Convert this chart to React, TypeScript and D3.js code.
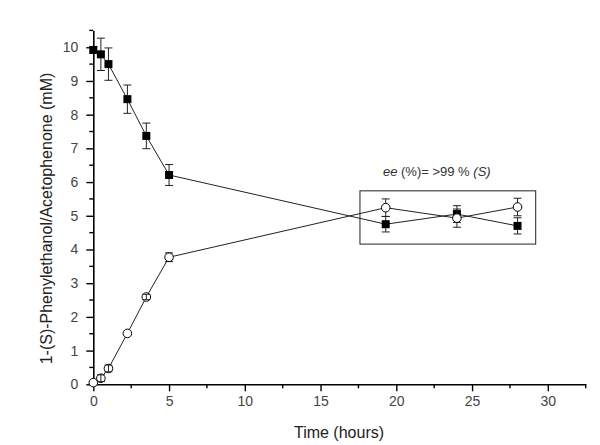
import * as d3 from "d3";
import { useEffect, useRef } from "react";

// Acetophenone (filled squares)
const acetoTime = [0, 0.5, 1, 2.25, 3.5, 5, 19.3, 24, 28];
const acetoConc = [9.92, 9.79, 9.5, 8.46, 7.37, 6.21, 4.75, 5.05, 4.7];
const acetoErr = [0.1, 0.48, 0.48, 0.42, 0.38, 0.31, 0.23, 0.25, 0.24];

// 1-(S)-Phenylethanol (open circles)
const phenTime = [0, 0.5, 1, 2.25, 3.5, 5, 19.3, 24, 28];
const phenConc = [0.05, 0.18, 0.47, 1.51, 2.59, 3.77, 5.24, 4.93, 5.26];
const phenErr = [0, 0.1, 0.1, 0, 0.08, 0.13, 0.26, 0.27, 0.26];

const xTicks = [0, 5, 10, 15, 20, 25, 30];
const yTicks = [0, 1, 2, 3, 4, 5, 6, 7, 8, 9, 10];

// annotation box in data units
const boxX = [17.6, 29.2];
const boxY = [4.16, 5.74];

export default function App() {
  const svgRef = useRef<SVGSVGElement | null>(null);

  useEffect(() => {
    if (!svgRef.current) return;
    const svg = d3.select(svgRef.current);
    svg.selectAll("*").remove();

    const font = "'Liberation Sans', Arial, sans-serif";

    const x = d3.scaleLinear().domain([0, 32.5]).range([93.3, 585.7]);
    const y = d3.scaleLinear().domain([0, 10.5]).range([384.3, 30.4]);

    const g = svg.append("g");

    // axes
    const xMinor = d3.range(0, 32.51, 2.5).filter((v) => v % 5 !== 0);
    const yMinor = d3.range(0, 10.51, 0.5).filter((v) => v % 1 !== 0);

    const xAxis = g
      .append("g")
      .attr("transform", `translate(0,${y(0)})`)
      .call(
        d3
          .axisBottom(x)
          .tickValues(xTicks)
          .tickSize(7)
          .tickSizeOuter(0)
          .tickPadding(5)
          .tickFormat(d3.format("d"))
      );
    xAxis
      .selectAll("line")
      .attr("stroke", "#000")
      .attr("stroke-width", 1.4);
    xAxis.select(".domain").attr("stroke", "#000").attr("stroke-width", 1.6);
    xAxis
      .selectAll("text")
      .attr("font-family", font)
      .attr("font-size", 14)
      .attr("fill", "#444");
    xAxis
      .selectAll(".minor")
      .data(xMinor)
      .join("line")
      .attr("x1", (d) => x(d))
      .attr("x2", (d) => x(d))
      .attr("y1", 0)
      .attr("y2", 4)
      .attr("stroke", "#000")
      .attr("stroke-width", 1.4);

    const yAxis = g
      .append("g")
      .attr("transform", `translate(${x(0)},0)`)
      .call(
        d3
          .axisLeft(y)
          .tickValues(yTicks)
          .tickSize(7)
          .tickSizeOuter(0)
          .tickPadding(8)
          .tickFormat(d3.format("d"))
      );
    yAxis
      .selectAll("line")
      .attr("stroke", "#000")
      .attr("stroke-width", 1.4);
    yAxis.select(".domain").attr("stroke", "#000").attr("stroke-width", 1.6);
    yAxis
      .selectAll("text")
      .attr("font-family", font)
      .attr("font-size", 14)
      .attr("fill", "#444");
    yAxis
      .selectAll(".minor")
      .data(yMinor)
      .join("line")
      .attr("x1", 0)
      .attr("x2", -4)
      .attr("y1", (d) => y(d))
      .attr("y2", (d) => y(d))
      .attr("stroke", "#000")
      .attr("stroke-width", 1.4);

    // axis titles
    g.append("text")
      .attr("x", 339)
      .attr("y", 438)
      .attr("text-anchor", "middle")
      .attr("font-family", font)
      .attr("font-size", 16)
      .attr("fill", "#222")
      .text("Time (hours)");

    g.append("text")
      .attr("transform", `translate(52,218.5) rotate(-90)`)
      .attr("text-anchor", "middle")
      .attr("font-family", font)
      .attr("font-size", 16)
      .attr("fill", "#222")
      .text("1-(S)-Phenylethanol/Acetophenone (mM)");

    // annotation box + label
    g.append("rect")
      .attr("x", x(boxX[0]))
      .attr("y", y(boxY[1]))
      .attr("width", x(boxX[1]) - x(boxX[0]))
      .attr("height", y(boxY[0]) - y(boxY[1]))
      .attr("fill", "none")
      .attr("stroke", "#222")
      .attr("stroke-width", 1);

    const ee = g
      .append("text")
      .attr("x", x(boxX[0]) + 23)
      .attr("y", y(boxY[1]) - 15)
      .attr("font-family", font)
      .attr("font-size", 13)
      .attr("fill", "#333");
    ee.append("tspan").attr("font-style", "italic").text("ee");
    ee.append("tspan").text(" (%)= >99 % ");
    ee.append("tspan").attr("font-style", "italic").text("(S)");

    const line = d3
      .line<[number, number]>()
      .x((d) => x(d[0]))
      .y((d) => y(d[1]));

    const drawErr = (
      sel: d3.Selection<SVGGElement, unknown, null, undefined>,
      t: number[],
      v: number[],
      e: number[]
    ) => {
      t.forEach((ti, i) => {
        if (e[i] <= 0) return;
        const cx = x(ti);
        const y1 = y(v[i] + e[i]);
        const y2 = y(v[i] - e[i]);
        sel
          .append("line")
          .attr("x1", cx)
          .attr("x2", cx)
          .attr("y1", y1)
          .attr("y2", y2)
          .attr("stroke", "#222")
          .attr("stroke-width", 1);
        [y1, y2].forEach((yy) =>
          sel
            .append("line")
            .attr("x1", cx - 4)
            .attr("x2", cx + 4)
            .attr("y1", yy)
            .attr("y2", yy)
            .attr("stroke", "#222")
            .attr("stroke-width", 1)
        );
      });
    };

    // acetophenone series
    const aceto = g.append("g");
    aceto
      .append("path")
      .datum(acetoTime.map((t, i) => [t, acetoConc[i]] as [number, number]))
      .attr("d", line)
      .attr("fill", "none")
      .attr("stroke", "#222")
      .attr("stroke-width", 1);
    drawErr(aceto, acetoTime, acetoConc, acetoErr);
    aceto
      .selectAll("rect")
      .data(acetoTime)
      .join("rect")
      .attr("x", (d) => x(d) - 4)
      .attr("y", (_d, i) => y(acetoConc[i]) - 4)
      .attr("width", 8)
      .attr("height", 8)
      .attr("fill", "#000");

    // phenylethanol series
    const phen = g.append("g");
    phen
      .append("path")
      .datum(phenTime.map((t, i) => [t, phenConc[i]] as [number, number]))
      .attr("d", line)
      .attr("fill", "none")
      .attr("stroke", "#222")
      .attr("stroke-width", 1);
    const r = 4.3;
    const big = phenErr.map((e) => y(0) - y(e) > r);
    drawErr(
      phen,
      phenTime,
      phenConc,
      phenErr.map((e, i) => (big[i] ? e : 0))
    );
    phen
      .selectAll("circle")
      .data(phenTime)
      .join("circle")
      .attr("cx", (d) => x(d))
      .attr("cy", (_d, i) => y(phenConc[i]))
      .attr("r", r)
      .attr("fill", "#fff")
      .attr("stroke", "#000")
      .attr("stroke-width", 1);
    // small error bars sit on top of the markers
    drawErr(
      phen,
      phenTime,
      phenConc,
      phenErr.map((e, i) => (big[i] ? 0 : e))
    );
  }, []);

  return (
    <svg
      ref={svgRef}
      width={600}
      height={445}
      style={{ position: "absolute", left: 0, top: 0, background: "#fff" }}
    />
  );
}
